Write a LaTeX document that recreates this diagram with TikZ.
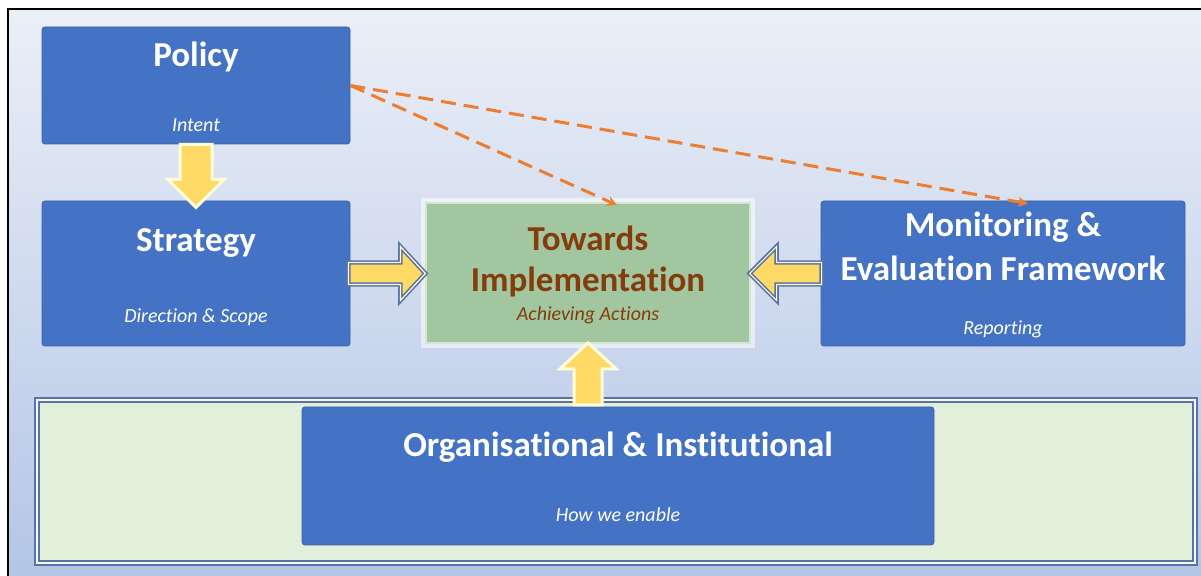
\documentclass[tikz,border=0pt]{standalone}
\usepackage{fontspec}
\setmainfont{Carlito}[RawFeature=-liga]
\usetikzlibrary{calc,arrows.meta}
\definecolor{boxblue}{HTML}{4472C4}
\definecolor{bgtop}{HTML}{EBEFF7}
\definecolor{bgbot}{HTML}{B3C5E6}
\definecolor{implgreen}{HTML}{A2C69F}
\definecolor{panelgreen}{HTML}{E2EFDA}
\definecolor{brownish}{HTML}{843C0C}
\definecolor{arrowyellow}{HTML}{FFD966}
\definecolor{arrowedge}{HTML}{5A72A8}
\definecolor{dashorange}{HTML}{ED7D31}
\tikzset{
  bluebox/.style={fill=boxblue, draw=boxblue!85!black, rounded corners=1.5pt, inner sep=0pt},
  title/.style={anchor=base, text=white, font=\bfseries\fontsize{17.5}{21}\selectfont},
  subtitle/.style={anchor=base, text=white, font=\itshape\fontsize{10}{12}\selectfont},
  sidearrow/.style={fill=arrowyellow, draw=arrowedge, line width=0.8pt, double=yellow!20, double distance=0.6pt, line join=miter},
  uparrow/.style={fill=arrowyellow, draw=yellow!15, line width=1.5pt, line join=miter},
  dasharrow/.style={dashorange, line width=1.5pt, dash pattern=on 7.5pt off 4pt, -{Stealth[length=5pt,width=5pt]}}
}
\begin{document}
\begin{tikzpicture}[x=0.5pt,y=-0.5pt]
\useasboundingbox (0,0) rectangle (1201,576);
\clip (0,0) rectangle (1201,576);
% background and frame
\shade[top color=bgtop, bottom color=bgbot] (8,9) rectangle (1205,580);
\draw[black, line width=1pt] (8,9) rectangle (1205,580);

% boxes
\node[bluebox, minimum width=154pt, minimum height=58.5pt] (policy) at (196,85.5) {};
\node[bluebox, minimum width=154pt, minimum height=72.5pt] (strategy) at (196,273.5) {};
\draw[white, opacity=0.55, line width=2pt] (423,200) rectangle (753,346);
\node[fill=implgreen, draw=white!55!implgreen, line width=0.9pt, minimum width=162pt, minimum height=70pt, inner sep=0pt] (impl) at (588,273) {};
\node[bluebox, minimum width=182pt, minimum height=72.5pt] (monitor) at (1003,273.5) {};
\node[fill=panelgreen, draw=arrowedge, line width=0.9pt, double=white!70!panelgreen, double distance=0.9pt, minimum width=579pt, minimum height=81.5pt, inner sep=0pt] (panel) at (616,481.5) {};
\node[bluebox, minimum width=316pt, minimum height=69pt] (org) at (618,476) {};

% texts
\node[title] (policyT) at (196,67) {Policy};
\node[subtitle] (policyS) at (196,132) {Intent};
\node[title] (strategyT) at (196,252) {Strategy};
\node[subtitle] (strategyS) at (196,323) {Direction \& Scope};
\node[title, text=brownish] (implT1) at (588,251) {Towards};
\node[title, text=brownish] (implT2) at (588,292) {Implementation};
\node[subtitle, text=brownish] (implS) at (588,321) {Achieving Actions};
\node[title] (monitorT1) at (1003,237) {Monitoring \&};
\node[title] (monitorT2) at (1003,281) {Evaluation Framework};
\node[subtitle] (monitorS) at (1003,335) {Reporting};
\node[title] (orgT) at (618,457) {Organisational \& Institutional};
\node[subtitle] (orgS) at (618,522) {How we enable};

% block arrows
\draw[uparrow] (policy.south) ++(-16,0) -- ++(0,35) -- ++(-12,0) -- ++(28,28) -- ++(28,-28) -- ++(-12,0) -- ++(0,-35) -- cycle;
\draw[sidearrow] (strategy.east) ++(-2,-11) -- ++(52,0) -- ++(0,-16) -- ++(25,27) -- ++(-25,27) -- ++(0,-16) -- ++(-52,0) -- cycle;
\draw[sidearrow] (monitor.west) ++(1,-11) -- ++(-45,0) -- ++(0,-16) -- ++(-27,27) -- ++(27,27) -- ++(0,-16) -- ++(45,0) -- cycle;
\draw[uparrow] (impl.south) ++(-14,61) -- ++(0,-36) -- ++(-14,0) -- ++(28,-26) -- ++(28,26) -- ++(-14,0) -- ++(0,36) -- cycle;

% dashed links
\draw[dasharrow] (policy.east) -- ($(impl.north)+(29,3)$);
\draw[dasharrow] (policy.east) -- ($(monitor.north)+(25,3)$);
\end{tikzpicture}
\end{document}
